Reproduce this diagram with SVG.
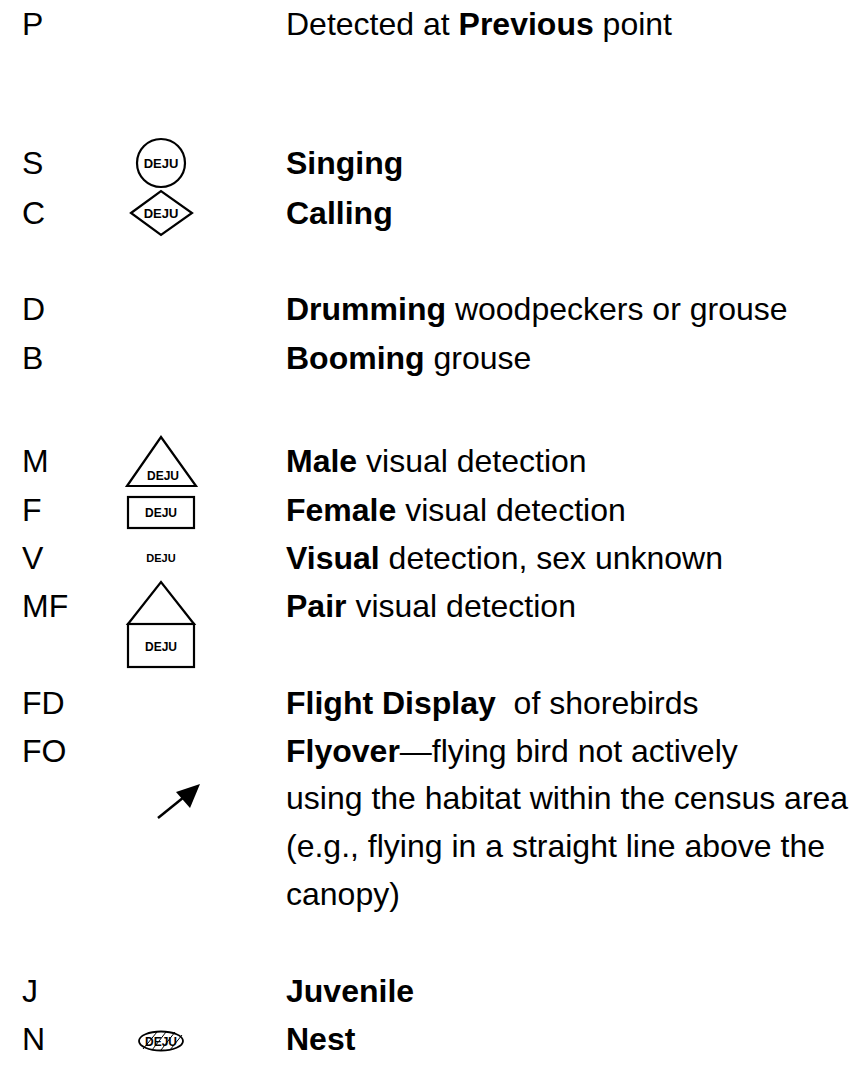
<svg xmlns="http://www.w3.org/2000/svg" width="867" height="1079" viewBox="0 0 867 1079">
<style>
.t{font-family:"Liberation Sans",Arial,sans-serif;font-size:32px;fill:#000;white-space:pre}
.b{font-weight:bold}
.s{font-family:"Liberation Sans",Arial,sans-serif;font-size:12px;font-weight:bold;fill:#000;text-anchor:middle}
.l{font-size:13px}
.sh{fill:#fff;stroke:#000;stroke-width:2.2;stroke-linejoin:miter}
</style>
<rect width="867" height="1079" fill="#fff"/>
<g id="codes">
<text class="t" x="22" y="35">P</text>
<text class="t" x="22" y="174">S</text>
<text class="t" x="22" y="224">C</text>
<text class="t" x="22" y="320">D</text>
<text class="t" x="22" y="369">B</text>
<text class="t" x="22" y="472">M</text>
<text class="t" x="22" y="521">F</text>
<text class="t" x="22" y="569">V</text>
<text class="t" x="22" y="617">MF</text>
<text class="t" x="22" y="714">FD</text>
<text class="t" x="22" y="762">FO</text>
<text class="t" x="22" y="1002">J</text>
<text class="t" x="22" y="1050">N</text>
</g>
<g id="descriptions">
<text class="t" x="286" y="35">Detected at <tspan class="b">Previous</tspan> point</text>
<text class="t b" x="286" y="174">Singing</text>
<text class="t b" x="286" y="224">Calling</text>
<text class="t" x="286" y="320"><tspan class="b">Drumming</tspan> woodpeckers or grouse</text>
<text class="t" x="286" y="369"><tspan class="b">Booming</tspan> grouse</text>
<text class="t" x="286" y="472"><tspan class="b">Male</tspan> visual detection</text>
<text class="t" x="286" y="521"><tspan class="b">Female</tspan> visual detection</text>
<text class="t" x="286" y="569"><tspan class="b">Visual</tspan> detection, sex unknown</text>
<text class="t" x="286" y="617"><tspan class="b">Pair</tspan> visual detection</text>
<text class="t" x="286" y="714"><tspan class="b">Flight Display</tspan>  of shorebirds</text>
<text class="t" x="286" y="762"><tspan class="b">Flyover</tspan>—flying bird not actively</text>
<text class="t" x="286" y="809">using the habitat within the census area</text>
<text class="t" x="286" y="857">(e.g., flying in a straight line above the</text>
<text class="t" x="286" y="905">canopy)</text>
<text class="t b" x="286" y="1002">Juvenile</text>
<text class="t b" x="286" y="1050">Nest</text>
</g>
<g id="sym-singing">
<circle class="sh" cx="161" cy="163" r="24"/>
<text class="s l" x="161" y="168">DEJU</text>
</g>
<g id="sym-calling">
<polygon class="sh" points="131,213 161,191 192,213 161,235"/>
<text class="s l" x="161" y="218">DEJU</text>
</g>
<g id="sym-male">
<polygon class="sh" points="127,486 161,437 196,486"/>
<text class="s" x="163" y="480">DEJU</text>
</g>
<g id="sym-female">
<rect class="sh" x="128" y="497" width="66" height="31"/>
<text class="s" x="161" y="517">DEJU</text>
</g>
<g id="sym-visual">
<text class="s" x="161" y="562" style="font-size:11px">DEJU</text>
</g>
<g id="sym-pair">
<polygon class="sh" points="128,624 161,582 194,624"/>
<rect class="sh" x="128" y="624" width="66" height="43"/>
<text class="s" x="161" y="651">DEJU</text>
</g>
<g id="connectors">
<line x1="158" y1="818" x2="184" y2="797" stroke="#000" stroke-width="2.5"/>
<polygon points="200,784 190,808 176,792" fill="#000"/>
</g>
<g id="sym-nest">
<ellipse cx="161" cy="1041" rx="22" ry="9.5" fill="#fff" stroke="#000" stroke-width="1.8"/>
<text class="s" x="161" y="1046">DEJU</text>
<g stroke="#000" stroke-width="1">
<line x1="143" y1="1049" x2="157" y2="1032"/>
<line x1="152" y1="1050" x2="166" y2="1032"/>
<line x1="161" y1="1050" x2="175" y2="1032"/>
<line x1="170" y1="1050" x2="182" y2="1035"/>
</g>
</g>
</svg>
